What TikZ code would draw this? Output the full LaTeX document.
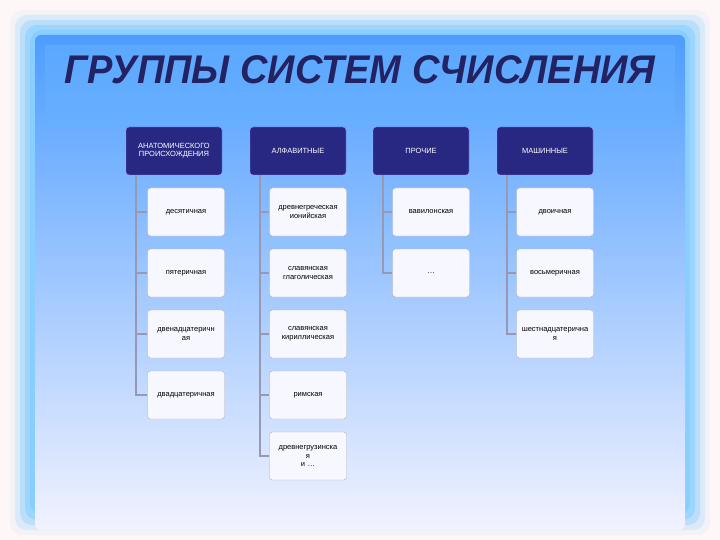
\documentclass[tikz,border=0pt]{standalone}
\usepackage{fontspec}
\setmainfont{Liberation Sans}
\definecolor{navy}{RGB}{40,40,130}
\definecolor{tcol}{RGB}{35,35,100}
\begin{document}
\begin{tikzpicture}[x=1pt,y=-1pt,
  hdr/.style={draw=white!60!blue,fill=navy,rounded corners=3pt,minimum width=96pt,minimum height=48pt,text width=92pt,align=center,text=white,font=\fontsize{7.5}{8}\selectfont,inner sep=1pt},
  item/.style={draw=black!30,fill=blue!3!white,rounded corners=3pt,minimum width=77pt,minimum height=48pt,text width=75pt,align=center,font=\fontsize{7.5}{8.5}\selectfont,inner sep=1pt},
  con/.style={draw=blue!15!gray!70,line width=1.4pt}]
\fill[pink!12!white] (0,0) rectangle (720,540);
\foreach \i/\o in {0/0.1,5/0.2,10/0.35,15/0.5,20/0.7}{
  \fill[blue!40!cyan!50,opacity=\o,rounded corners=12pt] (10+\i,10+\i) rectangle (710-\i,535-\i);}
\shade[top color=blue!55!cyan!70!white,middle color=blue!25!cyan!35!white,bottom color=blue!5!white,rounded corners=6pt]
  (35,35) rectangle (685,530);
\fill[blue!50!cyan!60!white,opacity=0.5] (45,45) rectangle (675,125);
\node[xscale=0.95] (title) at (360,70) {\fontsize{40}{44}\selectfont\bfseries\itshape\color{tcol}ГРУППЫ СИСТЕМ СЧИСЛЕНИЯ};
\node[hdr] (h1) at (174,151) {АНАТОМИЧЕСКОГО\\ПРОИСХОЖДЕНИЯ};
\node[hdr] (h2) at (298,151) {АЛФАВИТНЫЕ};
\node[hdr] (h3) at (421,151) {ПРОЧИЕ};
\node[hdr] (h4) at (545,151) {МАШИННЫЕ};
\node[item] (a1) at (186,212) {десятичная};
\node[item] (a2) at (186,273) {пятеричная};
\node[item] (a3) at (186,334) {двенадцатеричн\\ая};
\node[item] (a4) at (186,395) {двадцатеричная};
\node[item] (b1) at (308,212) {древнегреческая\\ионийская};
\node[item] (b2) at (308,273) {славянская\\глаголическая};
\node[item] (b3) at (308,334) {славянская\\кирилличеcкая};
\node[item] (b4) at (308,395) {римская};
\node[item] (b5) at (308,456) {древнегрузинска\\я\\и …};
\node[item] (c1) at (431,212) {вавилонская};
\node[item] (c2) at (431,273) {…};
\node[item] (d1) at (555,212) {двоичная};
\node[item] (d2) at (555,273) {восьмеричная};
\node[item] (d3) at (555,334) {шестнадцатерична\\я};
\foreach \h/\x/\list in {h1/136/{a1,a2,a3,a4},h2/260/{b1,b2,b3,b4,b5},h3/383/{c1,c2},h4/507/{d1,d2,d3}}{
  \foreach \c in \list {\draw[con] (\x,175) |- (\c.west);}}
\end{tikzpicture}
\end{document}
